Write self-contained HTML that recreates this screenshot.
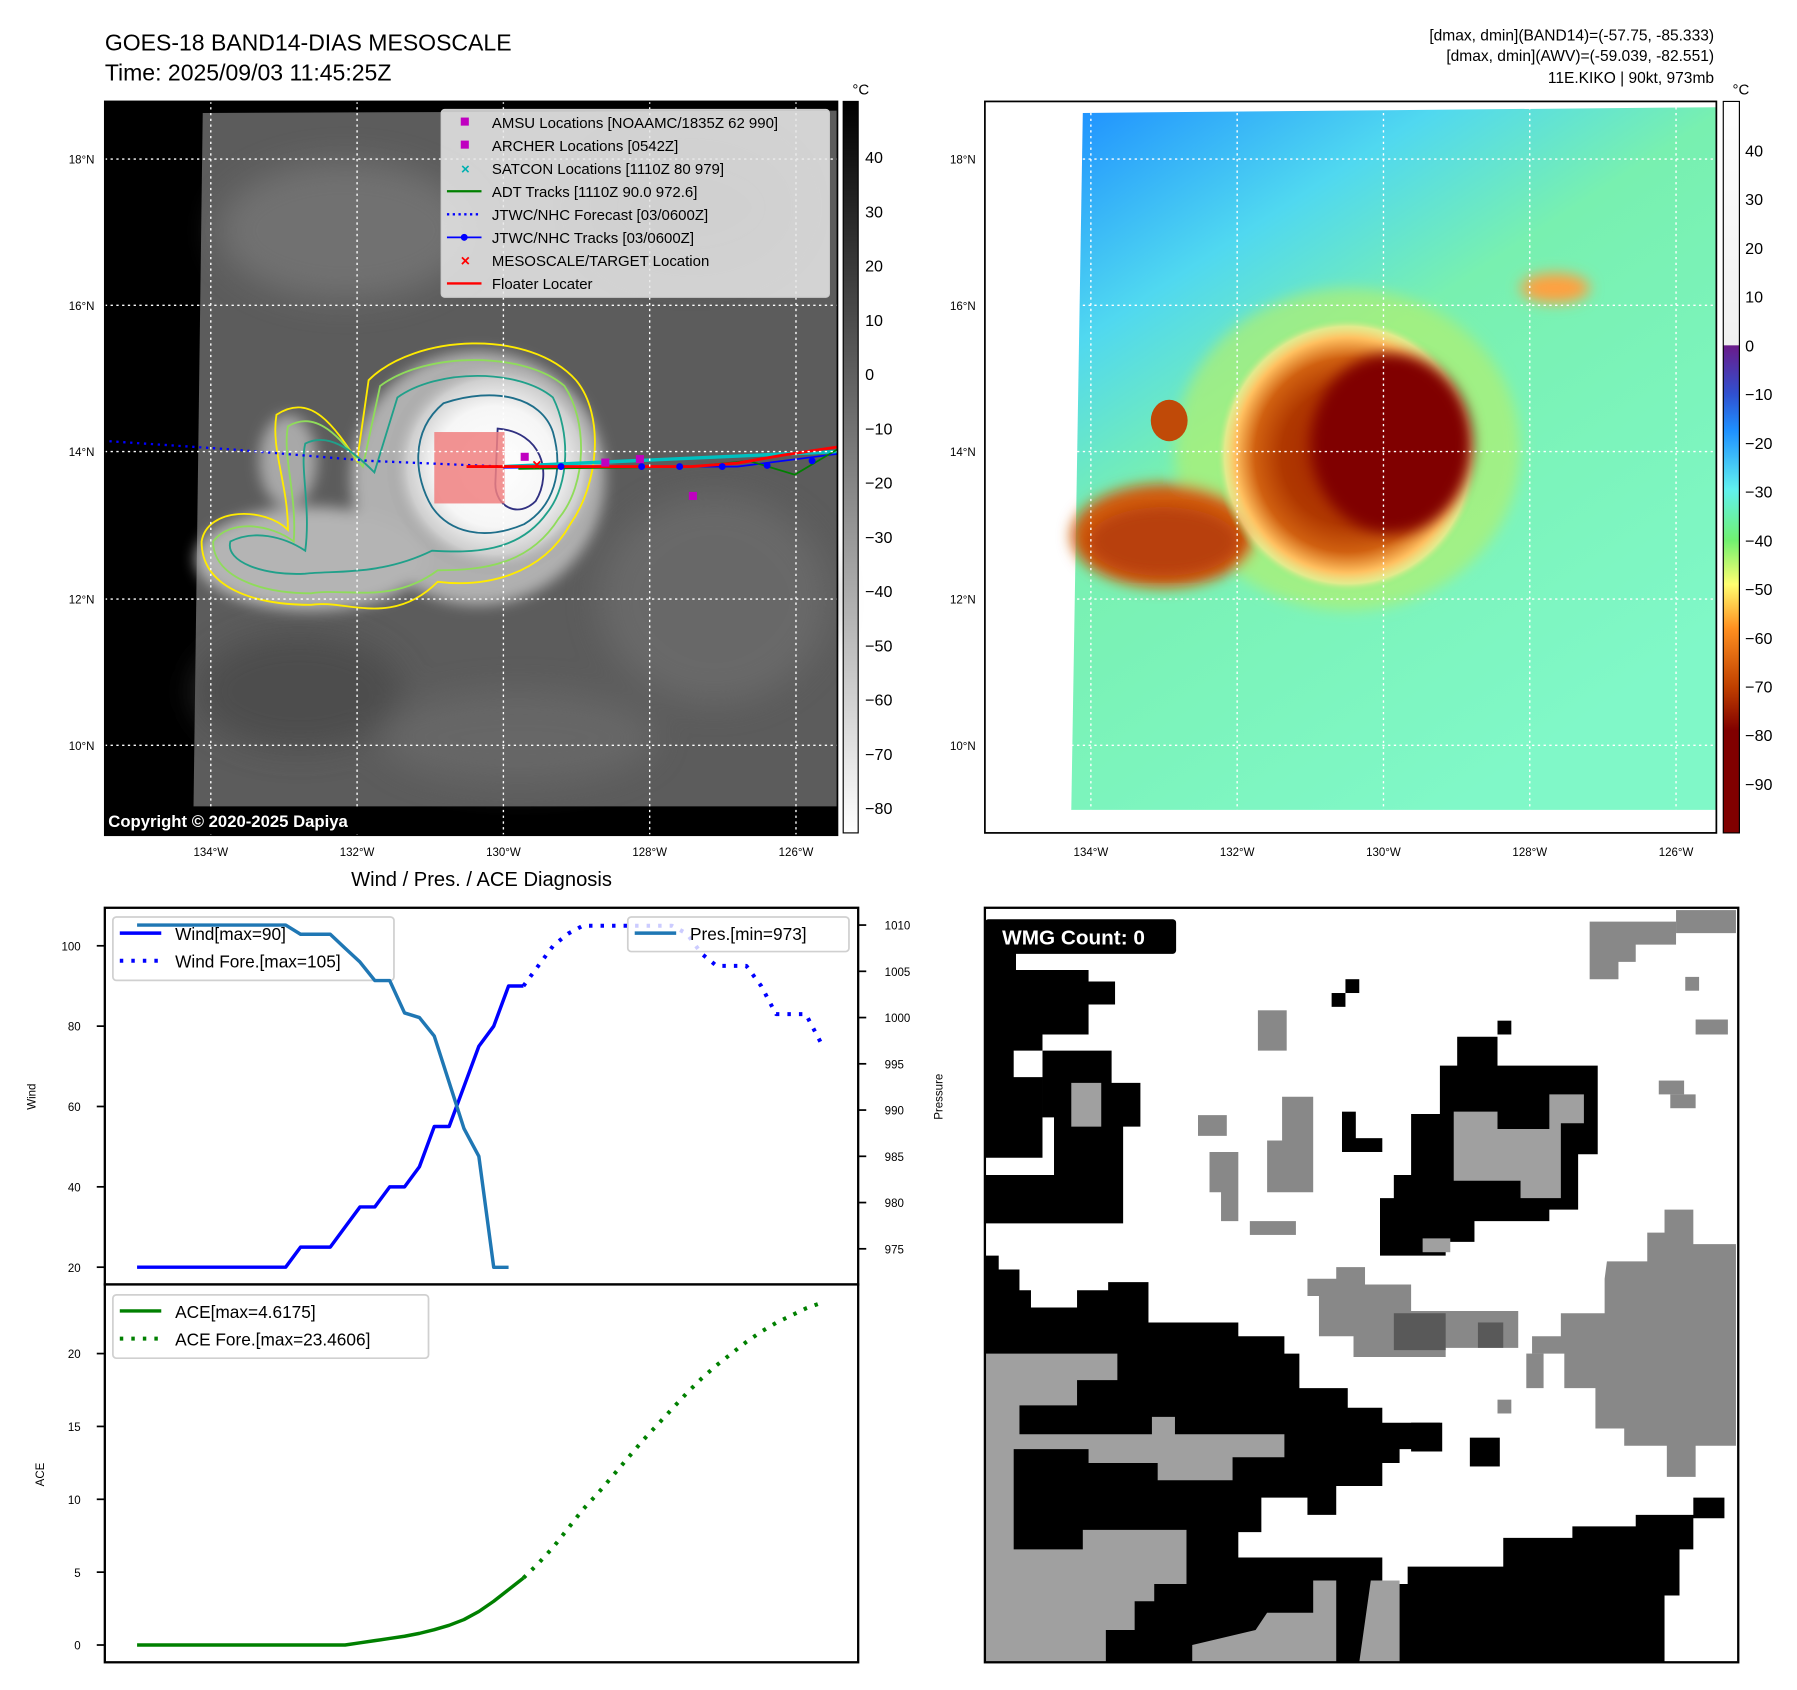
<!DOCTYPE html>
<html><head><meta charset="utf-8"><style>
html,body{margin:0;padding:0;background:#fff}
svg{display:block;font-family:"Liberation Sans","DejaVu Sans",sans-serif}
</style></head><body>
<svg id="root" width="1797" height="1690" viewBox="0 0 1560 1467" xmlns="http://www.w3.org/2000/svg">
<defs>
<linearGradient id="cb1" x1="0" y1="0" x2="0" y2="1"><stop offset="0" stop-color="#000"/><stop offset="1" stop-color="#fff"/></linearGradient>
<linearGradient id="cb2" x1="0" y1="0" x2="0" y2="1">
<stop offset="0" stop-color="#ffffff"/><stop offset="0.333" stop-color="#f0f0f0"/>
<stop offset="0.334" stop-color="#6a1b8a"/><stop offset="0.40" stop-color="#3050d0"/><stop offset="0.45" stop-color="#1e90ff"/>
<stop offset="0.53" stop-color="#60f0f0"/><stop offset="0.60" stop-color="#70f070"/><stop offset="0.66" stop-color="#ffff70"/>
<stop offset="0.72" stop-color="#ff9020"/><stop offset="0.80" stop-color="#c04000"/><stop offset="0.86" stop-color="#800000"/><stop offset="1" stop-color="#800000"/></linearGradient>
<linearGradient id="bgR" x1="0" y1="0" x2="0.6" y2="1">
<stop offset="0" stop-color="#1e90ff"/><stop offset="0.25" stop-color="#50d8f0"/><stop offset="0.45" stop-color="#78f0b0"/><stop offset="1" stop-color="#80f8c8"/></linearGradient>
<radialGradient id="hurR" cx="0.5" cy="0.5" r="0.5">
<stop offset="0" stop-color="#a02000"/><stop offset="0.5" stop-color="#b03800"/><stop offset="0.7" stop-color="#d06010"/><stop offset="0.85" stop-color="#ffc060"/><stop offset="0.93" stop-color="#ffe890" stop-opacity="0.7"/><stop offset="1" stop-color="#80f080" stop-opacity="0"/></radialGradient>
<radialGradient id="hurL" cx="0.5" cy="0.5" r="0.5">
<stop offset="0" stop-color="#fff"/><stop offset="0.55" stop-color="#f6f6f6"/><stop offset="0.8" stop-color="#cfcfcf"/><stop offset="1" stop-color="#999" stop-opacity="0"/></radialGradient>
<filter id="bl"><feGaussianBlur stdDeviation="6"/></filter>
<filter id="bl2"><feGaussianBlur stdDeviation="14"/></filter>
</defs>

<text x="91" y="44" font-size="20">GOES-18 BAND14-DIAS MESOSCALE</text>
<text x="91" y="70" font-size="20">Time: 2025/09/03 11:45:25Z</text>
<g font-size="13.5" text-anchor="end">
<text x="1488" y="35">[dmax, dmin](BAND14)=(-57.75, -85.333)</text>
<text x="1488" y="53">[dmax, dmin](AWV)=(-59.039, -82.551)</text>
<text x="1488" y="72">11E.KIKO | 90kt, 973mb</text>
</g>

<g>
<rect x="91" y="88" width="636" height="637" fill="#000"/>
<polygon points="176,98 727,96 727,700 168,700" fill="#5c5c5c"/>
<g filter="url(#bl2)" opacity="0.7">
<ellipse cx="300" cy="200" rx="110" ry="60" fill="#7a7a7a"/>
<ellipse cx="620" cy="520" rx="100" ry="90" fill="#6e6e6e"/>
<ellipse cx="260" cy="600" rx="90" ry="50" fill="#474747"/>
<ellipse cx="600" cy="180" rx="90" ry="60" fill="#4a4a4a"/>
<ellipse cx="450" cy="640" rx="120" ry="40" fill="#6c6c6c"/>
</g>
<g filter="url(#bl)">
<ellipse cx="415" cy="415" rx="110" ry="110" fill="#b0b0b0"/>
<ellipse cx="270" cy="485" rx="100" ry="45" fill="#b4b4b4"/>
<ellipse cx="250" cy="400" rx="25" ry="40" fill="#a8a8a8"/>
</g>
<ellipse cx="430" cy="405" rx="95" ry="95" fill="url(#hurL)"/>
<g fill="none" stroke-width="1.6">
<path d="M320,330 C360,290 460,285 500,330 C525,360 520,420 495,455 C470,500 420,510 380,505 C340,545 300,520 270,525 C220,525 175,510 175,470 C180,440 230,440 250,460 C250,420 235,390 240,360 C270,340 290,370 310,400 Z" stroke="#ffeb00"/>
<path d="M330,335 C370,305 455,305 490,335 C510,365 510,420 485,450 C460,490 420,495 380,495 C340,525 300,510 270,515 C225,515 185,500 185,470 C200,450 235,455 255,470 C258,430 245,395 250,370 C275,355 295,380 315,405 Z" stroke="#8fdc5a"/>
<path d="M345,345 C380,320 450,320 480,345 C495,375 495,420 475,445 C450,480 410,480 375,478 C330,500 290,495 265,498 C230,500 195,488 200,470 C220,460 245,465 265,478 C270,440 260,405 265,385 C285,375 305,390 325,410 Z" stroke="#20a08a"/>
<path d="M385,350 C430,335 470,345 480,375 C490,410 480,440 455,455 C420,470 390,462 375,440 C360,415 355,375 385,350 Z" stroke="#1e6e8a"/>
<path d="M432,372 C470,375 480,410 465,435 C450,450 430,440 430,420 Z" stroke="#303080"/>
</g>
<rect x="377" y="375" width="61" height="62" fill="#f08080" opacity="0.85"/>
<g fill="none">
<path d="M95,383 L200,390 L320,400 L437,405" stroke="#0000ff" stroke-width="2" stroke-dasharray="2,4"/>
<path d="M437,405 L727,392" stroke="#00c0c0" stroke-width="3"/>
<path d="M437,406 L560,405 L640,405 L727,394" stroke="#0000ff" stroke-width="1.5"/>
<path d="M450,407 L600,405 L650,400 L690,412 L727,390" stroke="#008000" stroke-width="1.5"/>
<path d="M405,405 L600,405 L640,402 L680,395 L727,388" stroke="#ff0000" stroke-width="2.5"/>
</g>
<g fill="#0000ff"><circle cx="487" cy="405" r="3"/><circle cx="557" cy="405" r="3"/><circle cx="590" cy="405" r="3"/><circle cx="627" cy="405" r="3"/><circle cx="666" cy="404" r="3"/><circle cx="705" cy="400" r="3"/></g>
<g fill="#c000c0"><rect x="452" y="393" width="7" height="7"/><rect x="552" y="395" width="7" height="7"/><rect x="598" y="427" width="7" height="7"/><rect x="522" y="398" width="7" height="7"/></g>
<text x="466" y="408" fill="#ff0000" font-size="14" font-weight="bold" text-anchor="middle">×</text>
<g stroke="#fff" stroke-width="1.2" stroke-dasharray="2,3">
<line x1="183" y1="88" x2="183" y2="725"/><line x1="310" y1="88" x2="310" y2="725"/><line x1="437" y1="88" x2="437" y2="725"/><line x1="564" y1="88" x2="564" y2="725"/><line x1="691" y1="88" x2="691" y2="725"/>
<line x1="91" y1="138" x2="727" y2="138"/><line x1="91" y1="265" x2="727" y2="265"/><line x1="91" y1="392" x2="727" y2="392"/><line x1="91" y1="520" x2="727" y2="520"/><line x1="91" y1="647" x2="727" y2="647"/>
</g>
<g>
<rect x="383" y="95" width="337" height="163" rx="3" fill="#e8e8e8" fill-opacity="0.85" stroke="#ccc"/>
<g font-size="13">
<rect x="400" y="102" width="7" height="7" fill="#c000c0"/><text x="427" y="111">AMSU Locations [NOAAMC/1835Z 62 990]</text>
<rect x="400" y="122" width="7" height="7" fill="#c000c0"/><text x="427" y="131">ARCHER Locations [0542Z]</text>
<text x="404" y="151" fill="#00b0b0" font-size="13" font-weight="bold" text-anchor="middle">×</text><text x="427" y="151">SATCON Locations [1110Z 80 979]</text>
<line x1="388" y1="166" x2="418" y2="166" stroke="#008000" stroke-width="2"/><text x="427" y="171">ADT Tracks [1110Z 90.0 972.6]</text>
<line x1="388" y1="186" x2="418" y2="186" stroke="#0000ff" stroke-width="2" stroke-dasharray="2,3"/><text x="427" y="191">JTWC/NHC Forecast [03/0600Z]</text>
<line x1="388" y1="206" x2="418" y2="206" stroke="#0000ff" stroke-width="1.5"/><circle cx="403" cy="206" r="3" fill="#0000ff"/><text x="427" y="211">JTWC/NHC Tracks [03/0600Z]</text>
<text x="404" y="231" fill="#ff0000" font-size="14" font-weight="bold" text-anchor="middle">×</text><text x="427" y="231">MESOSCALE/TARGET Location</text>
<line x1="388" y1="246" x2="418" y2="246" stroke="#ff0000" stroke-width="2"/><text x="427" y="251">Floater Locater</text>
</g></g>
<rect x="91" y="702" width="270" height="22" rx="3" fill="#000"/>
<text x="94" y="718" fill="#fff" font-size="14.5" font-weight="bold">Copyright © 2020-2025 Dapiya</text>
<rect x="91" y="88" width="636" height="637" fill="none" stroke="#000" stroke-width="1.5"/>
</g>
<g font-size="10" text-anchor="middle">
<text x="183" y="743">134°W</text><text x="310" y="743">132°W</text><text x="437" y="743">130°W</text><text x="564" y="743">128°W</text><text x="691" y="743">126°W</text>
<text x="947" y="743">134°W</text><text x="1074" y="743">132°W</text><text x="1201" y="743">130°W</text><text x="1328" y="743">128°W</text><text x="1455" y="743">126°W</text>
</g>
<g font-size="10" text-anchor="end">
<text x="82" y="142">18°N</text><text x="82" y="269">16°N</text><text x="82" y="396">14°N</text><text x="82" y="524">12°N</text><text x="82" y="651">10°N</text>
<text x="847" y="142">18°N</text><text x="847" y="269">16°N</text><text x="847" y="396">14°N</text><text x="847" y="524">12°N</text><text x="847" y="651">10°N</text>
</g>

<g>
<rect x="732" y="88" width="13" height="635" fill="url(#cb1)" stroke="#000" stroke-width="1"/>
<text x="740" y="82" font-size="13">°C</text>
<g id="cb1ticks" font-size="14"></g>
</g>

<g>
<rect x="855" y="88" width="635" height="635" fill="#fff"/>
<polygon points="940,98 1490,93 1490,703 930,703" fill="url(#bgR)"/>
<g filter="url(#bl)">
<ellipse cx="1170" cy="390" rx="150" ry="140" fill="#b0f070" opacity="0.7"/>
<ellipse cx="1010" cy="465" rx="80" ry="45" fill="#d05a10"/>
<ellipse cx="1350" cy="250" rx="30" ry="13" fill="#ffa040"/>
</g>
<ellipse cx="1170" cy="395" rx="115" ry="120" fill="url(#hurR)"/>
<ellipse cx="1208" cy="385" rx="70" ry="78" fill="#800000" filter="url(#bl)"/>
<ellipse cx="1010" cy="470" rx="65" ry="30" fill="#b84008" filter="url(#bl)"/>
<ellipse cx="1015" cy="365" rx="16" ry="18" fill="#c04a08"/>
<g stroke="#fff" stroke-width="1.2" stroke-dasharray="2,3">
<line x1="947" y1="88" x2="947" y2="723"/><line x1="1074" y1="88" x2="1074" y2="723"/><line x1="1201" y1="88" x2="1201" y2="723"/><line x1="1328" y1="88" x2="1328" y2="723"/><line x1="1455" y1="88" x2="1455" y2="723"/>
<line x1="930" y1="138" x2="1490" y2="138"/><line x1="930" y1="265" x2="1490" y2="265"/><line x1="930" y1="392" x2="1490" y2="392"/><line x1="930" y1="520" x2="1490" y2="520"/><line x1="930" y1="647" x2="1490" y2="647"/>
</g>
<rect x="855" y="88" width="635" height="635" fill="none" stroke="#000" stroke-width="1.5"/>
</g>
<g>
<rect x="1496" y="88" width="14" height="635" fill="url(#cb2)" stroke="#000" stroke-width="1"/>
<text x="1504" y="82" font-size="13">°C</text>
<g id="cb2ticks" font-size="14"></g>
</g>

<text x="418" y="769" font-size="17.5" text-anchor="middle">Wind / Pres. / ACE Diagnosis</text>
<g id="windChart">
<rect x="91" y="788" width="654" height="327" fill="#fff" stroke="#000" stroke-width="2"/>
</g>
<g id="aceChart">
<rect x="91" y="1115" width="654" height="328" fill="#fff" stroke="#000" stroke-width="2"/>
</g>
<text transform="translate(31,952) rotate(-90)" font-size="10" text-anchor="middle">Wind</text>
<text transform="translate(818,952) rotate(-90)" font-size="10" text-anchor="middle">Pressure</text>
<text transform="translate(38,1280) rotate(-90)" font-size="10" text-anchor="middle">ACE</text>

<g>
<rect x="855" y="788" width="654" height="655" fill="#fff"/>
<g fill="#000">
<polygon points="855,800 882,800 882,842 945,842 945,852 968,852 968,872 945,872 945,898 905,898 905,912 880,912 880,935 905,935 905,1005 855,1005"/>
<polygon points="855,860 870,860 870,930 855,930"/>
<polygon points="905,912 965,912 965,940 990,940 990,978 975,978 975,1062 855,1062 855,1020 915,1020 915,970 905,970"/>
<polygon points="1265,900 1300,900 1300,925 1387,925 1387,1002 1370,1002 1370,1050 1345,1050 1345,1060 1280,1060 1280,1078 1255,1078 1255,1090 1198,1090 1198,1040 1210,1040 1210,1020 1225,1020 1225,967 1250,967 1250,925 1265,925"/>
<rect x="1165" y="965" width="12" height="30"/><rect x="1165" y="988" width="35" height="12"/>
<rect x="1156" y="862" width="12" height="12"/><rect x="1168" y="850" width="12" height="12"/><rect x="1300" y="886" width="12" height="12"/>
<polygon points="855,1090 867,1090 867,1102 885,1102 885,1120 895,1120 895,1135 935,1135 935,1120 962,1120 962,1113 997,1113 997,1148 1075,1148 1075,1160 1115,1160 1115,1175 1128,1175 1128,1205 1170,1205 1170,1222 1200,1222 1200,1235 1250,1235 1250,1258 1215,1258 1215,1270 1200,1270 1200,1290 1160,1290 1160,1315 1135,1315 1135,1300 1095,1300 1095,1330 1075,1330 1075,1352 1200,1352 1200,1375 1222,1375 1222,1360 1305,1360 1305,1335 1365,1335 1365,1325 1420,1325 1420,1315 1470,1315 1470,1300 1497,1300 1497,1318 1470,1318 1470,1345 1458,1345 1458,1385 1445,1385 1445,1443 855,1443"/>
<rect x="1276" y="1248" width="26" height="25"/><rect x="1225" y="1235" width="27" height="25"/>
</g>
<g fill="#a0a0a0">
<rect x="930" y="940" width="26" height="38"/>
<polygon points="1262,965 1300,965 1300,980 1345,980 1345,950 1375,950 1375,975 1355,975 1355,1040 1320,1040 1320,1025 1262,1025"/>
<rect x="1235" y="1075" width="24" height="12"/>
<polygon points="855,1175 970,1175 970,1198 935,1198 935,1220 885,1220 885,1245 1000,1245 1000,1230 1020,1230 1020,1245 1115,1245 1115,1265 1070,1265 1070,1285 1005,1285 1005,1270 945,1270 945,1258 880,1258 880,1380 860,1380 855,1380"/>
<polygon points="855,1345 940,1345 940,1328 1030,1328 1030,1375 1002,1375 1002,1390 985,1390 985,1415 960,1415 960,1443 855,1443"/>
<polygon points="1035,1428 1090,1415 1100,1400 1140,1400 1140,1372 1160,1372 1160,1443 1035,1443"/>
<polygon points="1190,1372 1215,1372 1215,1443 1180,1443"/>
</g>
<g fill="#888">
<polygon points="1380,800 1455,800 1455,820 1420,820 1420,835 1405,835 1405,850 1380,850 1380,822"/>
<rect x="1455" y="790" width="52" height="20"/>
<rect x="1092" y="877" width="25" height="35"/>
<polygon points="1113,952 1140,952 1140,1035 1100,1035 1100,990 1113,990"/>
<polygon points="1050,1000 1075,1000 1075,1060 1060,1060 1060,1035 1050,1035"/>
<rect x="1040" y="968" width="25" height="18"/><rect x="1085" y="1060" width="40" height="12"/>
<polygon points="1135,1110 1160,1110 1160,1100 1185,1100 1185,1115 1225,1115 1225,1138 1318,1138 1318,1170 1255,1170 1255,1178 1175,1178 1175,1160 1145,1160 1145,1125 1135,1125"/>
<polygon points="1395,1095 1430,1095 1430,1070 1445,1070 1445,1050 1470,1050 1470,1080 1507,1080 1507,1255 1472,1255 1472,1282 1447,1282 1447,1255 1410,1255 1410,1240 1385,1240 1385,1205 1358,1205 1358,1175 1330,1175 1330,1160 1355,1160 1355,1140 1393,1140 1393,1110"/>
<rect x="1440" y="938" width="22" height="12"/><rect x="1450" y="950" width="22" height="12"/><rect x="1472" y="885" width="28" height="13"/><rect x="1463" y="848" width="12" height="12"/>
<rect x="1325" y="1175" width="15" height="30"/><rect x="1300" y="1215" width="12" height="12"/>
</g>
<g fill="#595959"><rect x="1210" y="1140" width="45" height="32"/><rect x="1283" y="1148" width="22" height="22"/></g>
<rect x="855" y="798" width="166" height="30" rx="3" fill="#000"/>
<text x="870" y="820" fill="#fff" font-size="18" font-weight="bold">WMG Count: 0</text>
<rect x="855" y="788" width="654" height="655" fill="none" stroke="#000" stroke-width="2"/>
</g>

<script>
const windObs = [20,20,20,20,20,20,20,20,20,20,20,25,25,25,30,35,35,40,40,45,55,55,65,75,80,90,90];
const windFore = [90,95,100,103,105,105,105,105,105,105,105,103,98,95,95,95,90,83,83,83,76];
const presObs = [1010,1010,1010,1010,1010,1010,1010,1010,1010,1010,1010,1009,1009,1009,1007.5,1006,1004,1004,1000.5,1000,998,993,988,985,973,973];
const aceObs = [0,0,0,0,0,0,0,0,0,0,0,0,0,0,0,0.15,0.3,0.45,0.6,0.8,1.05,1.35,1.75,2.3,3.0,3.8,4.6];
const aceFore = [4.6,5.6,6.7,8.0,9.3,10.4,11.6,12.8,14.0,15.1,16.2,17.3,18.3,19.2,20.0,20.8,21.5,22.1,22.6,23.1,23.46];
const windTicks = [20,40,60,80,100];
const presTicks = [975,980,985,990,995,1000,1005,1010];
const aceTicks = [0,5,10,15,20];
const cb1Ticks = [40,30,20,10,0,-10,-20,-30,-40,-50,-60,-70,-80];
const cb2Ticks = [40,30,20,10,0,-10,-20,-30,-40,-50,-60,-70,-80,-90];

const NS='http://www.w3.org/2000/svg';
const xS = i => 119 + i*12.9;
const foreOff = windObs.length-1;
const yW = v => 1100 - (v-20)*3.4875;
const yP = p => 803 + (1010-p)*8.03;
const yA = v => 1428 - v*12.65;
const cb1Y = v => 325 - v*4.71;
const cb2Y = v => 300 - v*4.23;

function mk(tag, parent){const e=document.createElementNS(NS,tag);parent.appendChild(e);return e;}
function poly(parent, pts, color, w, dash){
  const p = mk('polyline', parent);
  p.setAttribute('points', pts.map(q=>q[0].toFixed(1)+','+q[1].toFixed(1)).join(' '));
  p.setAttribute('fill','none');p.setAttribute('stroke',color);p.setAttribute('stroke-width',w);
  p.setAttribute('stroke-linejoin','round');
  if(dash){p.setAttribute('stroke-dasharray',dash);}
  return p;
}
const wc = document.getElementById('windChart');
const ac = document.getElementById('aceChart');

windTicks.forEach(v=>{
  const t = mk('text', wc);
  
  
  t.setAttribute('x',70);t.setAttribute('y',yW(v)+4);t.setAttribute('font-size','10');t.setAttribute('text-anchor','end');t.textContent=v;
  const l = mk('line', wc);
  
  
  l.setAttribute('x1',84);l.setAttribute('x2',91);l.setAttribute('y1',yW(v));l.setAttribute('y2',yW(v));l.setAttribute('stroke','#000');l.setAttribute('stroke-width','1.5');
});
presTicks.forEach(v=>{
  const t = mk('text', wc);
  
  
  t.setAttribute('x',768);t.setAttribute('y',yP(v)+4);t.setAttribute('font-size','10');t.textContent=v;
  const l = mk('line', wc);
  
  
  l.setAttribute('x1',745);l.setAttribute('x2',752);l.setAttribute('y1',yP(v));l.setAttribute('y2',yP(v));l.setAttribute('stroke','#000');l.setAttribute('stroke-width','1.5');
});
aceTicks.forEach(v=>{
  const t = mk('text', ac);
  
  
  t.setAttribute('x',70);t.setAttribute('y',yA(v)+4);t.setAttribute('font-size','10');t.setAttribute('text-anchor','end');t.textContent=v;
  const l = mk('line', ac);
  
  
  l.setAttribute('x1',84);l.setAttribute('x2',91);l.setAttribute('y1',yA(v));l.setAttribute('y2',yA(v));l.setAttribute('stroke','#000');l.setAttribute('stroke-width','1.5');
});

function pts(arr, off, yf){ return arr.map((v,i)=>[xS(i+off), yf(v)]); }
function legend(parent, x, y, w, h, rows, name){
  const g = mk('g', parent);
  
  
  const r = mk('rect', g);
  r.setAttribute('x',x);r.setAttribute('y',y);r.setAttribute('width',w);r.setAttribute('height',h);r.setAttribute('rx',3);
  r.setAttribute('fill','#fff');r.setAttribute('fill-opacity','0.8');r.setAttribute('stroke','#d0d0d0');r.setAttribute('stroke-width','1.5');
  rows.forEach((row,k)=>{
    const yy = y+14+k*24;
    const l = mk('line', g);
    l.setAttribute('x1',x+6);l.setAttribute('x2',x+42);l.setAttribute('y1',yy);l.setAttribute('y2',yy);
    l.setAttribute('stroke',row.c);l.setAttribute('stroke-width',row.d?3.5:3);
    if(row.d) l.setAttribute('stroke-dasharray','3,7');
    const t = mk('text', g);
    t.setAttribute('x',x+54);t.setAttribute('y',yy+6);t.setAttribute('font-size','15');t.textContent=row.t;
  });
}

const pWind = poly(wc, pts(windObs,0,yW), '#0000ff', 3);


const pWindF = poly(wc, pts(windFore,foreOff,yW), '#0000ff', 3.5, '3,7');


legend(wc, 98, 796, 244, 55, [{c:'#0000ff',t:'Wind[max=90]'},{c:'#0000ff',t:'Wind Fore.[max=105]',d:1}], 'wind-legend');
const pPres = poly(wc, pts(presObs,0,yP), '#1f77b4', 3);


legend(wc, 545, 796, 192, 30, [{c:'#1f77b4',t:'Pres.[min=973]'}], 'pressure-legend');

const pAce = poly(ac, pts(aceObs,0,yA), '#008000', 3);


const pAceF = poly(ac, pts(aceFore,foreOff,yA), '#008000', 3.5, '3,7');


legend(ac, 98, 1124, 274, 55, [{c:'#008000',t:'ACE[max=4.6175]'},{c:'#008000',t:'ACE Fore.[max=23.4606]',d:1}], 'ace-legend');

const g1 = document.getElementById('cb1ticks');
cb1Ticks.forEach(v=>{
  const t = mk('text', g1);
  
  
  t.setAttribute('x',751);t.setAttribute('y',cb1Y(v)+5);t.textContent=(v<0?'\u2212'+(-v):v);
});
const g2 = document.getElementById('cb2ticks');
cb2Ticks.forEach(v=>{
  const t = mk('text', g2);
  
  
  t.setAttribute('x',1515);t.setAttribute('y',cb2Y(v)+5);t.textContent=(v<0?'\u2212'+(-v):v);
});
</script>
</svg>
</body></html>
